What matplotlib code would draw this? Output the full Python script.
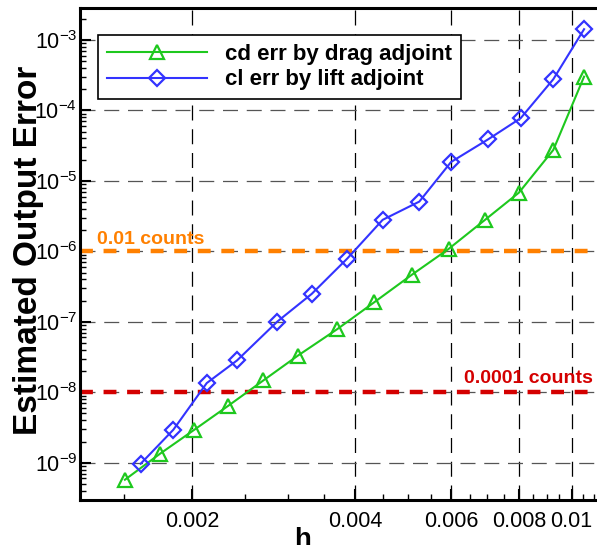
import matplotlib
matplotlib.use("Agg")
import matplotlib.pyplot as plt
from matplotlib.ticker import FixedLocator, MultipleLocator, LogLocator, NullFormatter, FixedFormatter

plt.rcParams['font.family'] = ['Liberation Sans', 'DejaVu Sans']
plt.rcParams['mathtext.fontset'] = 'custom'
plt.rcParams['mathtext.rm'] = 'Liberation Sans'
plt.rcParams['axes.unicode_minus'] = False

# estimated output error vs mesh size h
h_drag = [0.001505, 0.001746, 0.00202, 0.002333, 0.002706, 0.003135, 0.003703,
          0.004326, 0.005078, 0.005936, 0.006929, 0.008002, 0.009256, 0.010545]
err_drag = [5.74e-10, 1.34e-9, 2.94e-9, 6.44e-9, 1.47e-8, 3.32e-8, 7.87e-8,
            1.88e-7, 4.64e-7, 1.08e-6, 2.80e-6, 6.82e-6, 2.75e-5, 3.01e-4]

h_lift = [0.001609, 0.001848, 0.002129, 0.002421, 0.002873, 0.003323, 0.003864,
          0.004489, 0.005244, 0.005998, 0.007026, 0.008059, 0.009256, 0.010545]
err_lift = [9.68e-10, 2.94e-9, 1.35e-8, 2.83e-8, 1.01e-7, 2.49e-7, 7.91e-7,
            2.80e-6, 5.08e-6, 1.85e-5, 3.90e-5, 7.75e-5, 2.77e-4, 1.42e-3]

thresholds = [1e-6, 1e-8]
threshold_labels = ['0.01 counts', '0.0001 counts']
threshold_colors = ['#ff8000', '#d40000']

x_ticks = [0.002, 0.004, 0.006, 0.008, 0.01]
x_ticklabels = ['0.002', '0.004', '0.006', '0.008', '0.01']

GREEN = '#1ec81e'
BLUE = '#3333ff'

fig = plt.figure(figsize=(5.97, 5.45), dpi=100)
ax = fig.add_axes([80 / 597, 45 / 545, 517 / 597, 492 / 545])
ax.set_xscale('log')
ax.set_yscale('log')
ax.set_xlim(0.001244, 0.01114)
ax.set_ylim(2.96e-10, 2.84e-3)

ax.grid(True, which='major', axis='y', color='#555555', lw=0.9, linestyle=(0, (12, 7)))
ax.grid(True, which='major', axis='x', color='black', lw=0.9, linestyle=(0, (12, 7)))

for yv, col in zip(thresholds, threshold_colors):
    ax.axhline(yv, color=col, lw=3.2, dashes=(2.9, 2.4), zorder=2)

ax.plot(h_drag, err_drag, color=GREEN, lw=1.5, marker='^', ms=10, mfc='none',
        mec=GREEN, mew=1.6, label='cd err by drag adjoint', zorder=3)
ax.plot(h_lift, err_lift, color=BLUE, lw=1.5, marker='D', ms=8, mfc='none',
        mec=BLUE, mew=1.6, label='cl err by lift adjoint', zorder=3)

ax.annotate(threshold_labels[0], xy=(0.033, thresholds[0]), xycoords=('axes fraction', 'data'),
            xytext=(0, 5), textcoords='offset points', color=threshold_colors[0],
            fontsize=14, fontweight='bold', ha='left', va='baseline')
ax.annotate(threshold_labels[1], xy=(0.992, thresholds[1]), xycoords=('axes fraction', 'data'),
            xytext=(0, 7), textcoords='offset points', color=threshold_colors[1],
            fontsize=14, fontweight='bold', ha='right', va='baseline')

ax.xaxis.set_major_locator(FixedLocator(x_ticks))
ax.xaxis.set_major_formatter(FixedFormatter(x_ticklabels))
ax.xaxis.set_minor_locator(MultipleLocator(0.0005))
ax.xaxis.set_minor_formatter(NullFormatter())
ax.yaxis.set_major_locator(LogLocator(base=10, numticks=20))
ax.yaxis.set_minor_locator(LogLocator(base=10, subs=range(2, 10), numticks=20))
ax.yaxis.set_minor_formatter(NullFormatter())

ax.tick_params(which='both', direction='in', labelsize=15.5)
ax.tick_params(which='major', length=8, width=1.5)
ax.tick_params(which='minor', length=4.5, width=1)
ax.tick_params(axis='x', pad=8)
ax.tick_params(axis='y', pad=2)

for s in ['left', 'bottom', 'top']:
    ax.spines[s].set_linewidth(2.2)
ax.spines['right'].set_visible(False)

ax.set_xlabel('h', fontsize=20, fontweight='bold')
ax.set_ylabel('Estimated Output Error', fontsize=24, fontweight='bold')
ax.xaxis.set_label_coords(0.43, -0.055)
ax.yaxis.set_label_coords(-0.07, 0.508)

leg = ax.legend(loc='upper left', bbox_to_anchor=(0.035, 0.945), borderaxespad=0,
                fancybox=False, framealpha=1, edgecolor='black', handlelength=4.5,
                handletextpad=0.85, labelspacing=0.22, borderpad=0.38,
                prop={'size': 16, 'weight': 'bold'})
leg.get_frame().set_linewidth(1.2)

fig.savefig('out.png', dpi=100)
